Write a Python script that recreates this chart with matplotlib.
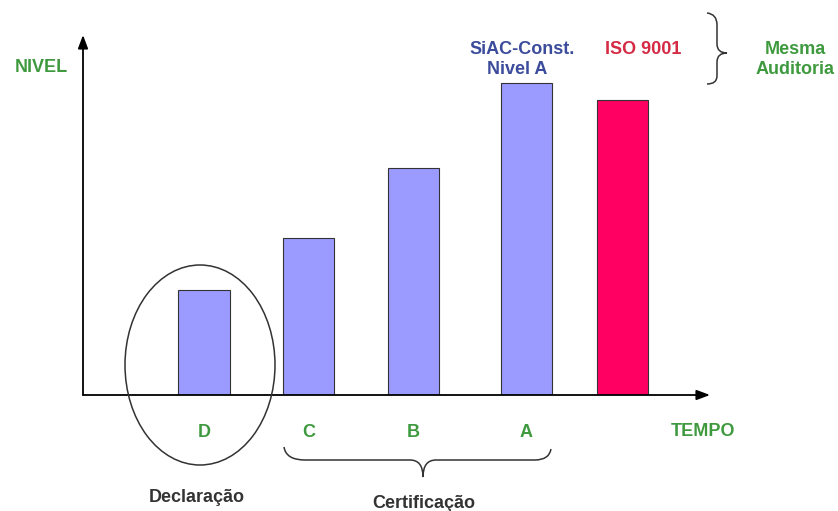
import matplotlib
matplotlib.use("Agg")
import matplotlib.pyplot as plt
from matplotlib.patches import Ellipse, PathPatch
from matplotlib.path import Path

plt.rcParams["font.family"] = ["Liberation Sans", "DejaVu Sans"]

categories = ["D", "C", "B", "A", "ISO 9001"]
levels = [105, 157, 227, 312, 295]
tick_labels = ["D", "C", "B", "A", ""]
x_pos = [0, 1, 2, 3.08, 4]

blue = "#9b9bff"
pink = "#ff0062"
green = "#3f9a3f"
navy = "#3c4c9c"
red = "#d42a44"

fig = plt.figure(figsize=(8.38, 5.11), dpi=100)
W, H = 838, 511

# main axes (baseline at y=395px, y-arrow tip at 35px, x-arrow tip at 710px)
ax = fig.add_axes([83 / W, (H - 395) / H, (710 - 83) / W, (395 - 35) / H])
colors = [blue] * 4 + [pink]
ax.bar(x_pos, levels, width=0.49, color=colors, edgecolor="#333333", linewidth=0.8)
ax.set_xlim(-1.157, 4.837)
ax.set_ylim(0, 360)
for s in ax.spines.values():
    s.set_visible(False)
ax.set_xticks(x_pos)
ax.set_xticklabels(tick_labels, color=green, fontweight="bold", fontsize=13)
ax.tick_params(axis="x", length=0, pad=21)
ax.set_yticks([])
arrow = dict(arrowstyle="-|>,head_length=0.8,head_width=0.3", color="black", lw=1.3,
             shrinkA=0, shrinkB=0)
ax.annotate("", xy=(0, 1), xytext=(0, 0), xycoords="axes fraction", arrowprops=arrow)
ax.annotate("", xy=(1, 0), xytext=(0, 0), xycoords="axes fraction", arrowprops=arrow)

# overlay in pixel coordinates for annotations
ov = fig.add_axes([0, 0, 1, 1], facecolor="none")
ov.set_xlim(0, W)
ov.set_ylim(H, 0)
ov.axis("off")

ov.add_patch(Ellipse((200, 365), 150, 200, fill=False, edgecolor="#333333", lw=1.1))

C3 = Path.CURVE3
brace_h = Path(
    [(284, 447), (286, 460), (305, 460), (410, 460), (423, 460), (423, 477),
     (423, 460), (436, 460), (535, 460), (549, 460), (551, 449)],
    [Path.MOVETO, C3, C3, Path.LINETO, C3, C3, C3, C3, Path.LINETO, C3, C3],
)
ov.add_patch(PathPatch(brace_h, fill=False, edgecolor="#333333", lw=1.1))

brace_v = Path(
    [(707, 13), (717, 14), (717, 25), (717, 44), (717, 53), (727, 53),
     (717, 53), (717, 62), (717, 76), (717, 84), (707, 84)],
    [Path.MOVETO, C3, C3, Path.LINETO, C3, C3, C3, C3, Path.LINETO, C3, C3],
)
ov.add_patch(PathPatch(brace_v, fill=False, edgecolor="#333333", lw=1.1))

txt = dict(ha="center", va="center", fontsize=13, fontweight="bold")
ov.text(41, 67, "NIVEL", color=green, **txt)
ov.text(703, 431, "TEMPO", color=green, **txt)
ov.text(522, 49, "SiAC-Const.", color=navy, **txt)
ov.text(517, 70, "Nivel A", color=navy, **txt)
ov.text(643, 49, "ISO 9001", color=red, **txt)
ov.text(795, 49, "Mesma", color=green, **txt)
ov.text(795, 70, "Auditoria", color=green, **txt)
ov.text(197, 497, "Declaração", color="#333333", **txt)
ov.text(424, 503, "Certificação", color="#333333", **txt)

fig.savefig("out.png", dpi=100)
